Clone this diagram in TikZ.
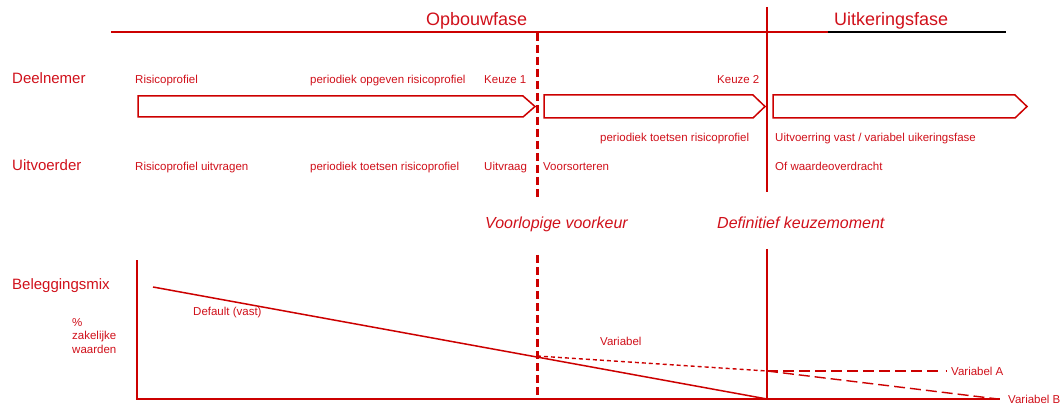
\documentclass[tikz,border=0pt]{standalone}
\usepackage{fontspec}
\setmainfont{Liberation Sans}
\definecolor{dred}{RGB}{204,0,0}
\definecolor{tred}{RGB}{208,16,26}
\begin{document}
\begin{tikzpicture}[x=1pt,y=-1pt,
  big/.style={inner sep=0pt,anchor=base west,text=tred,font=\fontsize{15}{18}\selectfont},
  huge/.style={inner sep=0pt,anchor=base west,text=tred,font=\fontsize{18}{21}\selectfont},
  ital/.style={inner sep=0pt,anchor=base west,text=tred,font=\fontsize{16}{19}\selectfont\itshape},
  small/.style={inner sep=0pt,anchor=base west,text=tred,font=\fontsize{11.5}{14}\selectfont},
  arrowbox/.style={draw=dred,line width=1.5pt,line join=miter},
  thickdash/.style={draw=dred,line width=3pt,dash pattern=on 8pt off 4pt},
  thinline/.style={draw=dred,line width=1.5pt},
  shortdash/.style={draw=dred,line width=1.4pt,dash pattern=on 4pt off 3pt},
  longdash/.style={draw=dred,line width=1.4pt,dash pattern=on 11pt off 5pt}]
\useasboundingbox (0,0) rectangle (1063,406);

% top heading line
\coordinate (tl) at (111,32);
\coordinate (tr) at (828,32);
\coordinate (tb) at (1006,32);
\draw[dred,line width=1.8pt] (tl) -- (tr);
\draw[black,line width=1.8pt] (tr) -- (tb);
\node[huge] (opb) at (426,26) {Opbouwfase};
\node[huge] (uitk) at (834,26) {Uitkeringsfase};

% vertical separators (upper part)
\coordinate (d1t) at (537,33);
\coordinate (d1b) at (537,197);
\draw[thickdash] (d1t) -- (d1b);
\coordinate (s1t) at (767,7);
\coordinate (s1b) at (767,192);
\draw[thinline] (s1t) -- (s1b);

% arrows
\draw[arrowbox] (138,96) -- (523,96) -- (535,106.5) -- (523,117) -- (138,117) -- cycle;
\draw[arrowbox] (544,95) -- (753,95) -- (765,106.5) -- (753,118) -- (544,118) -- cycle;
\draw[arrowbox] (773,95) -- (1015,95) -- (1027,106.5) -- (1015,118) -- (773,118) -- cycle;

% row labels
\node[big] (deel) at (12,84) {Deelnemer};
\node[big] (uitv) at (12,171) {Uitvoerder};
\node[big] (bel) at (12,289) {Beleggingsmix};

% row 1
\node[small] (r1a) at (135,84) {Risicoprofiel};
\node[small] (r1b) at (310,84) {periodiek opgeven risicoprofiel};
\node[small] (r1c) at (484,84) {Keuze 1};
\node[small] (r1d) at (717,84) {Keuze 2};
% row 2
\node[small] (r2a) at (600,142) {periodiek toetsen risicoprofiel};
\node[small] (r2b) at (775,142) {Uitvoerring vast / variabel uikeringsfase};
% row 3
\node[small] (r3a) at (135,171) {Risicoprofiel uitvragen};
\node[small] (r3b) at (310,171) {periodiek toetsen risicoprofiel};
\node[small] (r3c) at (484,171) {Uitvraag};
\node[small] (r3d) at (543,171) {Voorsorteren};
\node[small] (r3e) at (775,171) {Of waardeoverdracht};

% moments
\node[ital] (vv) at (485,229) {Voorlopige voorkeur};
\node[ital] (dk) at (717,229) {Definitief keuzemoment};

% chart
\node[small,anchor=north west,align=left,font=\fontsize{11.5}{13.8}\selectfont] (pz) at (72,318) {\%\\zakelijke\\waarden};
\coordinate (ya) at (137,260);
\coordinate (o) at (137,399);
\coordinate (xa) at (1000,399);
\draw[thinline] (ya) -- (o) -- (xa);
\coordinate (d2t) at (537,255);
\coordinate (d2b) at (537,400);
\draw[thickdash] (d2t) -- (d2b);
\coordinate (s2t) at (767,249);
\coordinate (s2b) at (767,399);
\draw[thinline] (s2t) -- (s2b);

\coordinate (def0) at (153,287);
\coordinate (def1) at (767,399);
\draw[thinline] (def0) -- (def1);
\coordinate (vs) at (537,356);
\coordinate (vk) at (767,371);
\draw[shortdash] (vs) -- (vk);
\coordinate (vaend) at (942,371);
\coordinate (vadot0) at (945.5,371);
\coordinate (vadot1) at (947,371);
\draw[longdash] (vk) -- (vaend);
\draw[dred,line width=1.4pt] (vadot0) -- (vadot1);
\coordinate (vbend) at (998,399);
\draw[longdash] (vk) -- (vbend);

\node[small] (dv) at (193,315) {Default (vast)};
\node[small] (var) at (600,345) {Variabel};
\node[small] (vA) at (951,375) {Variabel A};
\node[small] (vB) at (1008,403) {Variabel B};
\end{tikzpicture}
\end{document}
